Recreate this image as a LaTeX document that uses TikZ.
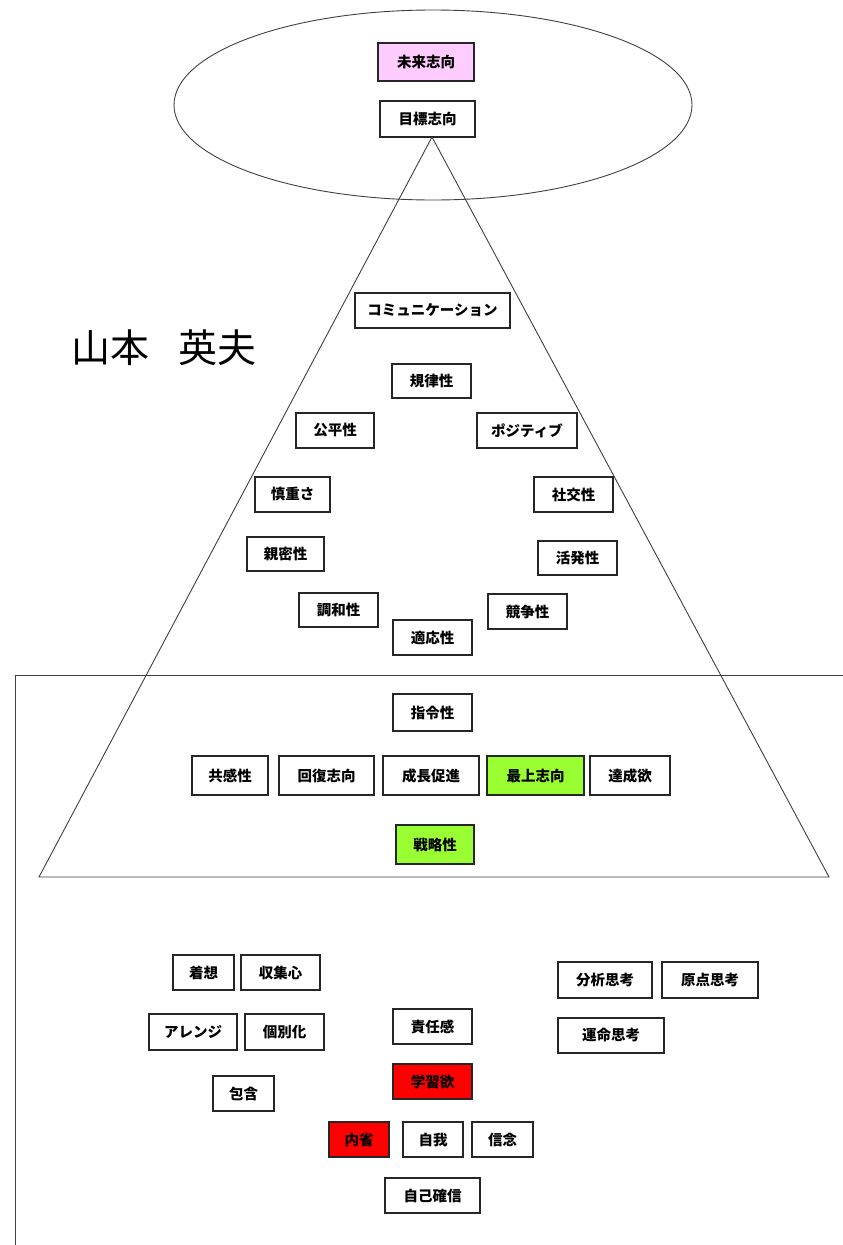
\documentclass[tikz,border=0pt]{standalone}
\usepackage{fontspec}
\newfontfamily\jp{Noto Sans CJK JP}
\definecolor{pinkfill}{HTML}{FFCCFF}
\definecolor{greenfill}{HTML}{99FF33}
\definecolor{redfill}{HTML}{FF0000}
\tikzset{
  box/.style={draw=black!85, line width=1.2pt, fill=white, inner sep=0pt,
    font=\jp\fontsize{14.5}{14.5}\selectfont\bfseries},
  outline/.style={draw=black!75, line width=0.9pt},
}
\newcommand{\bx}[7][white]{%
  \node[box, fill=#1, minimum width={(#5-#3)*1pt}, minimum height={(#6-#4)*1pt}]
    (#2) at ({(#3+#5)/2},{(#4+#6)/2}) {#7};}
\begin{document}
\begin{tikzpicture}[x=1pt,y=-1pt]
\useasboundingbox (0,0) rectangle (843,1245);
\fill[white] (0,0) rectangle (843,1245);
% ellipse
\draw[outline] (433,105) ellipse [x radius=259, y radius=95];
% lower region frame
\draw[outline] (15,1245) -- (15,675) -- (843,675);
% triangle
\coordinate (apex) at (432,137);
\coordinate (bl) at (39,877);
\coordinate (br) at (829,877);
\draw[outline] (bl) -- (apex) -- (br) -- cycle;
% name
\node[font=\jp\fontsize{39}{39}\selectfont, inner sep=0pt, anchor=west] (name) at (71,348) {山本\hspace{0.75em}英夫};
% boxes
\bx[pinkfill]{mirai}{378}{43}{474}{81}{未来志向}
\bx{mokuhyo}{380}{101}{475}{137}{目標志向}
\bx{comm}{355}{293}{510}{328}{コミュニケーション}
\bx{kiritsu}{392}{364}{471}{398}{規律性}
\bx{kohei}{296}{413}{374}{448}{公平性}
\bx{positive}{477}{413}{577}{448}{ポジティブ}
\bx{shincho}{255}{477}{330}{512}{慎重さ}
\bx{shako}{534}{477}{613}{512}{社交性}
\bx{shinmitsu}{247}{537}{324}{571}{親密性}
\bx{kappatsu}{538}{541}{617}{575}{活発性}
\bx{chowa}{299}{593}{378}{627}{調和性}
\bx{kyoso}{488}{594}{567}{629}{競争性}
\bx{tekio}{393}{620}{472}{655}{適応性}
\bx{shirei}{393}{694}{472}{731}{指令性}
\bx{kyokan}{192}{756}{268}{795}{共感性}
\bx{kaifuku}{279}{756}{374}{795}{回復志向}
\bx{seicho}{383}{756}{479}{795}{成長促進}
\bx[greenfill]{saijo}{487}{756}{584}{795}{最上志向}
\bx{tassei}{590}{756}{670}{795}{達成欲}
\bx[greenfill]{senryaku}{396}{825}{474}{864}{戦略性}
\bx{chakuso}{173}{955}{234}{990}{着想}
\bx{shushu}{241}{955}{320}{990}{収集心}
\bx{arrange}{149}{1014}{237}{1050}{アレンジ}
\bx{kobetsu}{245}{1014}{324}{1050}{個別化}
\bx{hogan}{213}{1076}{274}{1111}{包含}
\bx{sekinin}{393}{1009}{472}{1044}{責任感}
\bx[redfill]{gakushu}{393}{1064}{472}{1099}{学習欲}
\bx[redfill]{naisei}{329}{1122}{389}{1157}{内省}
\bx{jiga}{403}{1122}{463}{1157}{自我}
\bx{shinnen}{472}{1122}{533}{1157}{信念}
\bx{jikokakushin}{385}{1178}{480}{1213}{自己確信}
\bx{bunseki}{558}{962}{652}{998}{分析思考}
\bx{genten}{662}{962}{758}{998}{原点思考}
\bx{unmei}{558}{1018}{664}{1053}{運命思考\hspace{14pt}}
\end{tikzpicture}
\end{document}
